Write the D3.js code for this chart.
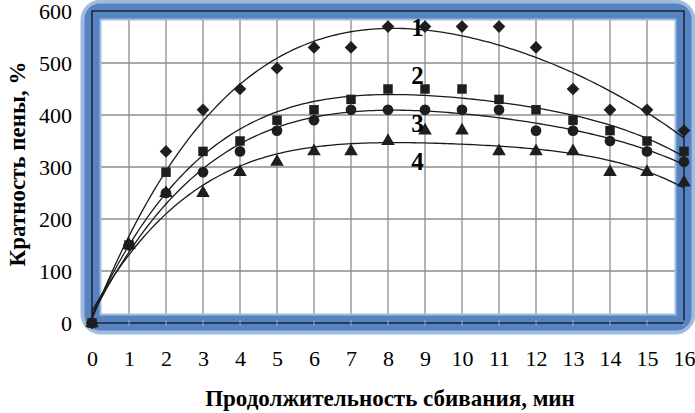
<!DOCTYPE html>
<head>
<meta charset="utf-8">
<title>Foam multiplicity</title>
<script src="https://d3js.org/d3.v7.min.js"></script>
<style>
  body { margin: 0; background: #fff; }
</style>
</head>
<body>
<div id="chart"></div>
<script>
// whipping time, min
var minutes = [0,1,2,3,4,5,6,7,8,9,10,11,12,13,14,15,16];
var series1 = [0,150,330,410,450,490,530,530,570,570,570,570,530,450,410,410,370];
var series2 = [0,150,290,330,350,390,410,430,450,450,450,430,410,390,370,350,330];
var series3 = [0,150,250,290,330,370,390,410,410,410,410,410,370,370,350,330,310];
var series4 = [0,150,250,250,290,310,330,330,350,370,370,330,330,330,290,290,270];
var seriesNames = ["1","2","3","4"];
var labelAt = [[8.8,551],[8.8,459],[8.8,368],[8.8,295]];
var yTicks = [0,100,200,300,400,500,600];

var serif = "'Liberation Serif', 'Times New Roman', 'DejaVu Serif', serif";

var W = 695, H = 413;
var margin = {top: 11, right: 11, bottom: 90, left: 92};
var width = W - margin.left - margin.right,
    height = H - margin.top - margin.bottom;

var svg = d3.select("#chart").append("svg")
    .attr("width", W).attr("height", H);
var g = svg.append("g")
    .attr("transform", "translate(" + margin.left + "," + margin.top + ")");

var x = d3.scaleLinear().domain([0, 16]).range([0, width]);
var y = d3.scaleLinear().domain([0, 600]).range([height, 0]);

// white inside
g.append("rect").attr("x", 0).attr("y", 0).attr("width", width).attr("height", height)
  .attr("fill", "#fff");

// grid
g.selectAll(".vg").data(minutes.slice(1, -1)).enter().append("line")
  .attr("x1", function(d) { return x(d); }).attr("x2", function(d) { return x(d); })
  .attr("y1", 0).attr("y2", height)
  .attr("stroke", "#8c8c8c").attr("stroke-width", 1.3);
g.selectAll(".hg").data(yTicks.slice(1, -1)).enter().append("line")
  .attr("y1", function(d) { return y(d); }).attr("y2", function(d) { return y(d); })
  .attr("x1", 0).attr("x2", width)
  .attr("stroke", "#8c8c8c").attr("stroke-width", 1.3);

// blue frame
g.append("rect").attr("x", -1).attr("y", -1).attr("width", width + 2).attr("height", height + 2)
  .attr("rx", 10).attr("fill", "none").attr("stroke", "#9fbbe0").attr("stroke-width", 21);
g.append("rect").attr("x", 0).attr("y", 0).attr("width", width).attr("height", height)
  .attr("rx", 8).attr("fill", "none").attr("stroke", "#5784c0").attr("stroke-width", 15);
g.append("rect").attr("x", 0).attr("y", 0).attr("width", width).attr("height", height)
  .attr("fill", "none").attr("stroke", "#1c2b40").attr("stroke-width", 1.6);

// small ticks on the bottom axis
g.selectAll(".tk").data(minutes).enter().append("line")
  .attr("x1", function(d) { return x(d); }).attr("x2", function(d) { return x(d); })
  .attr("y1", height - 3).attr("y2", height + 3)
  .attr("stroke", "#8fa8c8").attr("stroke-width", 1);

// axes labels (tick text only)
var xAxis = g.append("g").attr("transform", "translate(0," + height + ")")
  .call(d3.axisBottom(x).tickValues(minutes).tickSize(0).tickPadding(27).tickFormat(d3.format("d")));
xAxis.select(".domain").remove();
xAxis.attr("font-family", serif).attr("font-size", 22);
xAxis.selectAll("text").attr("fill", "#000");

var yAxis = g.append("g")
  .call(d3.axisLeft(y).tickValues(yTicks).tickSize(0).tickPadding(20));
yAxis.select(".domain").remove();
yAxis.attr("font-family", serif).attr("font-size", 22);
yAxis.selectAll("text").attr("fill", "#000");

// polynomial trend (least squares)
function polyFit(xs, ys, deg) {
  var n = deg + 1, A = [], b = [];
  for (var i = 0; i < n; i++) {
    A.push([]);
    for (var j = 0; j < n; j++) A[i].push(d3.sum(xs, function(v) { return Math.pow(v, i + j); }));
    b.push(d3.sum(xs, function(v, k) { return ys[k] * Math.pow(v, i); }));
  }
  for (var c = 0; c < n; c++) {
    for (var r = c + 1; r < n; r++) {
      var f = A[r][c] / A[c][c];
      for (var k = c; k < n; k++) A[r][k] -= f * A[c][k];
      b[r] -= f * b[c];
    }
  }
  var coef = new Array(n).fill(0);
  for (var r2 = n - 1; r2 >= 0; r2--) {
    var s = b[r2];
    for (var k2 = r2 + 1; k2 < n; k2++) s -= A[r2][k2] * coef[k2];
    coef[r2] = s / A[r2][r2];
  }
  return function(t) { return coef.reduce(function(a, cc, p) { return a + cc * Math.pow(t, p); }, 0); };
}

var allSeries = [series1, series2, series3, series4];
var line = d3.line().x(function(d) { return x(d[0]); }).y(function(d) { return y(d[1]); });
var fine = d3.range(0, 16.001, 0.1);
allSeries.forEach(function(s) {
  var f = polyFit(minutes, s, 4);
  g.append("path").datum(fine.map(function(t) { return [t, f(t)]; }))
    .attr("d", line).attr("fill", "none").attr("stroke", "#1a1a1a").attr("stroke-width", 1.3);
});

// markers (diamond drawn as a rotated square, like the spreadsheet marker)
var squareDiamond = {
  draw: function(ctx, size) {
    var r = Math.sqrt(size / 2);
    ctx.moveTo(0, -r); ctx.lineTo(r, 0); ctx.lineTo(0, r); ctx.lineTo(-r, 0); ctx.closePath();
  }
};
var shapes = [squareDiamond, d3.symbolSquare, d3.symbolCircle, d3.symbolTriangle];
var sizes = [80, 90, 90, 80];
allSeries.forEach(function(s, i) {
  g.selectAll(".m" + i).data(s).enter().append("path")
    .attr("d", d3.symbol().type(shapes[i]).size(sizes[i]))
    .attr("transform", function(d, k) { return "translate(" + x(minutes[k]) + "," + y(d) + ")"; })
    .attr("fill", "#1e1e1e");
});

// series numbers
g.selectAll(".lbl").data(seriesNames).enter().append("text")
  .attr("x", function(d, i) { return x(labelAt[i][0]); })
  .attr("y", function(d, i) { return y(labelAt[i][1]); })
  .attr("text-anchor", "middle").attr("font-size", 25).attr("font-weight", "bold")
  .attr("font-family", serif)
  .text(function(d) { return d; });

// axis titles
svg.append("text").attr("x", 390).attr("y", 406).attr("text-anchor", "middle")
  .attr("font-size", 23).attr("font-weight", "bold").attr("font-family", serif)
  .text("Продолжительность сбивания, мин");
svg.append("text").attr("transform", "translate(25,164) rotate(-90)").attr("text-anchor", "middle")
  .attr("font-size", 23).attr("font-weight", "bold").attr("font-family", serif)
  .text("Кратность пены, %");
</script>
</body>
